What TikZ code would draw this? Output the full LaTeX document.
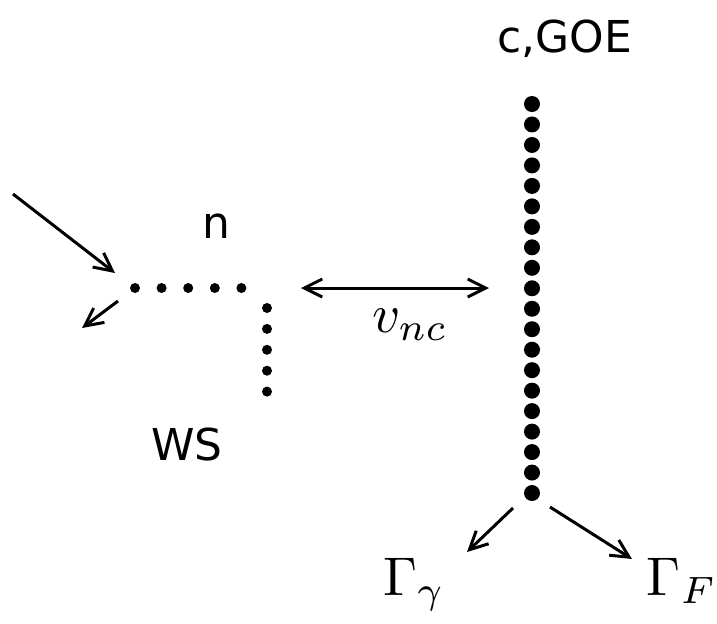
\documentclass[tikz,border=0pt]{standalone}
\usepackage{fontspec}
\setmainfont{DejaVu Sans}
\usetikzlibrary{arrows.meta}

\tikzset{
  lbl/.style={anchor=base, font=\fontsize{25}{30}\selectfont},
  mlbl/.style={anchor=base, font=\fontsize{10}{12}\selectfont, scale=3.1, transform shape},
  bigdot/.style={circle, fill, inner sep=0pt, minimum size=0.32cm},
  smalldot/.style={circle, fill, inner sep=0pt, minimum size=0.2cm},
  arr/.style={line width=1.7pt, >={Straight Barb[length=3.6mm,width=3.6mm]}},
}

\begin{document}
\begin{tikzpicture}
\useasboundingbox (0,0) rectangle (14.34,-12.46);
% dots
\foreach \i in {1,...,5} \node[smalldot] (h\i) at ({2.70+0.532*(\i-1)}, -5.76) {};
\foreach \i in {1,...,5} \node[smalldot] (s\i) at (5.34, {-6.16-0.418*(\i-1)}) {};
\foreach \i in {1,...,20} \node[bigdot] (c\i) at (10.64, {-2.08-0.4095*(\i-1)}) {};
% labels
\node[lbl]  (n)   at (4.32,  -4.76) {n};
\node[lbl]  (ws)  at (3.74,  -9.20) {WS};
\node[lbl]  (goe) at (11.30, -1.04) {c,GOE};
\node[mlbl] (vnc) at (8.20,  -6.64) {$v_{nc}$};
\node[mlbl] (gg)  at (8.28, -11.90) {$\Gamma_\gamma$};
\node[mlbl] (gf)  at (13.64,-11.90) {$\Gamma_F$};
% arrow ends
\coordinate (in0)  at (0.26, -3.88);
\coordinate (in1)  at (2.30, -5.46);
\coordinate (out0) at (2.36, -6.02);
\coordinate (out1) at (1.64, -6.56);
\coordinate (vl)   at (6.02, -5.76);
\coordinate (vr)   at (9.78, -5.76);
\coordinate (dl0)  at (10.26,-10.16);
\coordinate (dl1)  at (9.34, -11.04);
\coordinate (dr0)  at (11.00,-10.14);
\coordinate (dr1)  at (12.64,-11.18);
% arrows
\draw[arr, ->]  (in0) -- (in1);
\draw[arr, ->]  (out0) -- (out1);
\draw[arr, <->] (vl) -- (vr);
\draw[arr, ->]  (dl0) -- (dl1);
\draw[arr, ->]  (dr0) -- (dr1);
\end{tikzpicture}
\end{document}
